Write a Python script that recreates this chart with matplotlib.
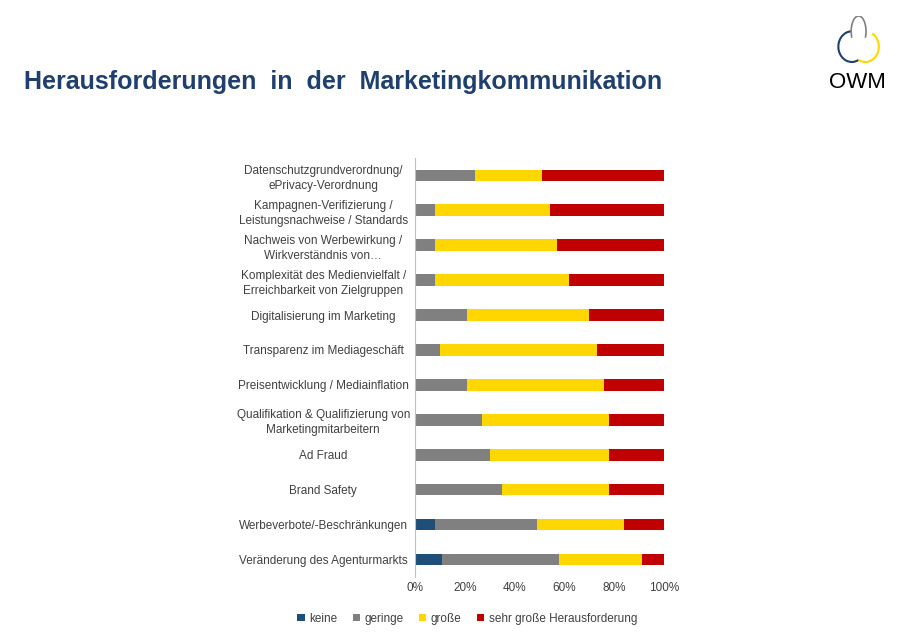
import numpy as np
import matplotlib.pyplot as plt
from matplotlib.patches import Arc

plt.rcParams["font.family"] = ["Liberation Sans", "DejaVu Sans"]

# ======================================================
# DATA (top to bottom)
# ======================================================
categories = [
    "Datenschutzgrundverordnung/\nePrivacy-Verordnung",
    "Kampagnen-Verifizierung /\nLeistungsnachweise / Standards",
    "Nachweis von Werbewirkung /\nWirkverständnis von…",
    "Komplexität des Medienvielfalt /\nErreichbarkeit von Zielgruppen",
    "Digitalisierung im Marketing",
    "Transparenz im Mediageschäft",
    "Preisentwicklung / Mediainflation",
    "Qualifikation & Qualifizierung von\nMarketingmitarbeitern",
    "Ad Fraud",
    "Brand Safety",
    "Werbeverbote/-Beschränkungen",
    "Veränderung des Agenturmarkts",
]
keine = [0, 0, 0, 0, 0, 0, 0, 0, 0, 0, 8, 11]
geringe = [24, 8, 8, 8, 21, 10, 21, 27, 30, 35, 41, 47]
grosse = [27, 46, 49, 54, 49, 63, 55, 51, 48, 43, 35, 33]
sehr_gross = [100 - a - b - c for a, b, c in zip(keine, geringe, grosse)]

series = [
    ("keine", keine, "#1f4e79"),
    ("geringe", geringe, "#808080"),
    ("große", grosse, "#ffd700"),
    ("sehr große Herausforderung", sehr_gross, "#c00000"),
]

# ======================================================
# PLOT
# ======================================================
fig = plt.figure(figsize=(9, 6.39), dpi=100)
fig.patch.set_facecolor("white")

fig.text(0.027, 0.872, "Herausforderungen  in  der  Marketingkommunikation",
         fontsize=18, fontweight="bold", color="#1f3f6e", va="center")

# simple logo
lax = fig.add_axes([0.915, 0.855, 0.075, 0.12])
lax.set_xlim(0, 1); lax.set_ylim(0, 1); lax.axis("off")
lax.add_patch(Arc((0.42, 0.6), 0.4, 0.4, theta1=90, theta2=300, color="#1f3f6e", lw=1.5))
lax.add_patch(Arc((0.62, 0.6), 0.4, 0.4, theta1=240, theta2=420, color="#ffd700", lw=1.5))
lax.add_patch(Arc((0.52, 0.8), 0.22, 0.4, theta1=-40, theta2=220, color="#808080", lw=1.2))
lax.text(0.5, 0.0, "OWM", fontsize=16, ha="center", va="bottom", color="black")

ax = fig.add_axes([0.461, 0.097, 0.277, 0.656])
y = np.arange(len(categories))[::-1]
left = np.zeros(len(categories))
for name, vals, col in series:
    ax.barh(y, vals, left=left, height=0.33, color=col, label=name)
    left += np.array(vals)

ax.set_xlim(0, 100)
ax.set_ylim(-0.5, len(categories) - 0.5)
ax.set_xticks(np.arange(0, 101, 20))
ax.set_xticklabels([f"{v}%" for v in range(0, 101, 20)], fontsize=8.5, color="#404040")
ax.set_yticks(y)
ax.set_yticklabels(categories, fontsize=8.5, color="#404040", ha="center", linespacing=1.35)
ax.tick_params(axis="y", length=0, pad=66)
ax.tick_params(axis="x", length=0)
for s in ["top", "right", "bottom"]:
    ax.spines[s].set_visible(False)
ax.spines["left"].set_color("#bfbfbf")

ax.legend(loc="upper center", bbox_to_anchor=(0.21, -0.06), ncol=4, frameon=False,
          fontsize=8.5, handlelength=0.6, handleheight=0.6, columnspacing=1.3,
          handletextpad=0.4, labelcolor="#404040")

plt.savefig("out.png", dpi=100)
plt.close()
